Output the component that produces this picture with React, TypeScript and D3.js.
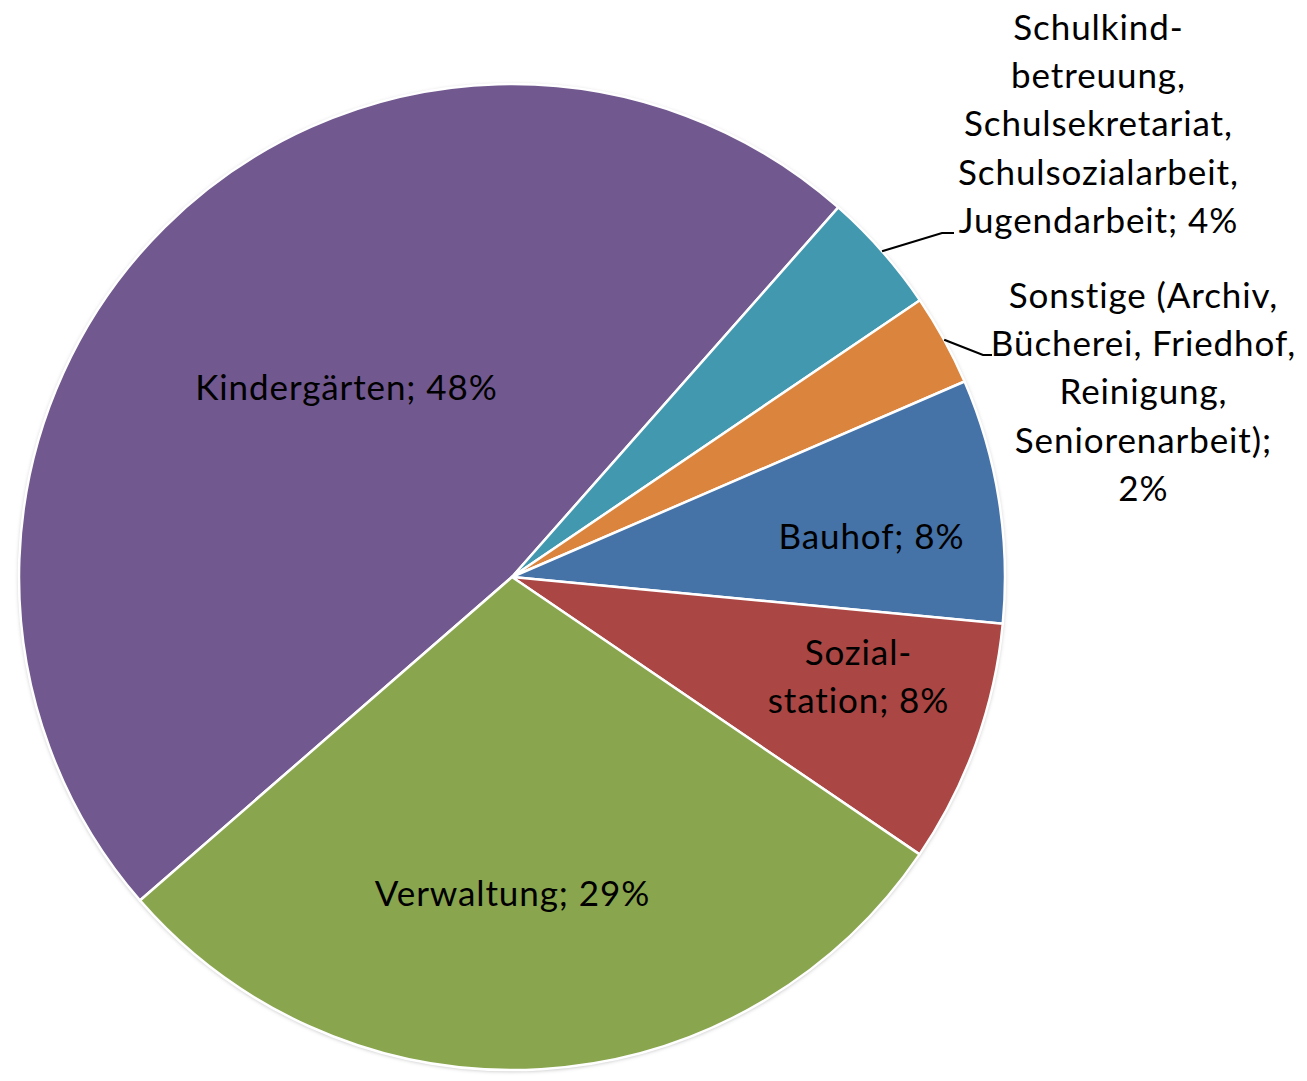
import React from "react";
import * as d3 from "d3";

const categories = [
  "Kindergärten",
  "Schulkindbetreuung",
  "Sonstige",
  "Bauhof",
  "Sozialstation",
  "Verwaltung",
];
const values = [47.9, 4.0, 3.0, 8.0, 8.0, 29.1];
const colors = ["#71588F", "#4198AF", "#DB843D", "#4572A7", "#AA4643", "#89A54E"];
const labelLines: string[][] = [
  ["Kindergärten; 48%"],
  ["Schulkind-", "betreuung,", "Schulsekretariat,", "Schulsozialarbeit,", "Jugendarbeit; 4%"],
  ["Sonstige (Archiv,", "Bücherei, Friedhof,", "Reinigung,", "Seniorenarbeit);", "2%"],
  ["Bauhof; 8%"],
  ["Sozial-", "station; 8%"],
  ["Verwaltung; 29%"],
];

// layout
const W = 1307;
const H = 1081;
const CX = 512;
const CY = 577;
const R = 493;
const START_DEG = 229;
const FONT = "Lato, 'Open Sans', sans-serif";
const FS = 35;
const LS = 0.9;
const LH = 48.2;
// label anchor (center x, first baseline y)
const labelPos: [number, number][] = [
  [346, 400],
  [1098, 40],
  [1143, 308],
  [871, 549],
  [858, 665],
  [512, 906],
];
// leader line end points (elbow, end) for outside labels
const leaders: Record<number, [number, number, number, number]> = {
  1: [942, 233, 954, 233],
  2: [983, 355, 992, 355],
};

export default function App() {
  const start = (START_DEG * Math.PI) / 180;
  const pie = d3
    .pie<number>()
    .sort(null)
    .value((d) => d)
    .startAngle(start)
    .endAngle(start + 2 * Math.PI);
  const arcs = pie(values);
  const arc = d3.arc<d3.PieArcDatum<number>>().innerRadius(0).outerRadius(R);

  return (
    <svg width={W} height={H} style={{ display: "block", position: "absolute", left: 0, top: 0 }}>
      <defs>
        <filter id="sh" x="-10%" y="-10%" width="120%" height="120%">
          <feDropShadow dx="0" dy="1" stdDeviation="2" floodColor="#000" floodOpacity="0.3" />
        </filter>
      </defs>
      <rect width={W} height={H} fill="#fff" />
      <g transform={`translate(${CX},${CY})`}>
        <circle r={R} fill="#fff" filter="url(#sh)" />
        {arcs.map((a, i) => (
          <path key={categories[i]} d={arc(a) || ""} fill={colors[i]} stroke="#fff" strokeWidth={2.5} strokeLinejoin="round" />
        ))}
      </g>
      {arcs.map((a, i) => {
        const ld = leaders[i];
        if (!ld) return null;
        const mid = (a.startAngle + a.endAngle) / 2;
        const x0 = CX + R * Math.sin(mid);
        const y0 = CY - R * Math.cos(mid);
        return (
          <polyline
            key={"l" + i}
            points={`${x0},${y0} ${ld[0]},${ld[1]} ${ld[2]},${ld[3]}`}
            fill="none"
            stroke="#000"
            strokeWidth={2.2}
          />
        );
      })}
      {labelLines.map((lines, i) => (
        <text
          key={"t" + i}
          x={labelPos[i][0]}
          y={labelPos[i][1]}
          textAnchor="middle"
          fontFamily={FONT}
          fontSize={FS}
          letterSpacing={LS}
          style={{ fontVariantLigatures: "none" }}
          fill="#000"
        >
          {lines.map((ln, j) => (
            <tspan key={j} x={labelPos[i][0] + LS / 2} y={labelPos[i][1] + j * LH}>
              {ln}
            </tspan>
          ))}
        </text>
      ))}
    </svg>
  );
}
